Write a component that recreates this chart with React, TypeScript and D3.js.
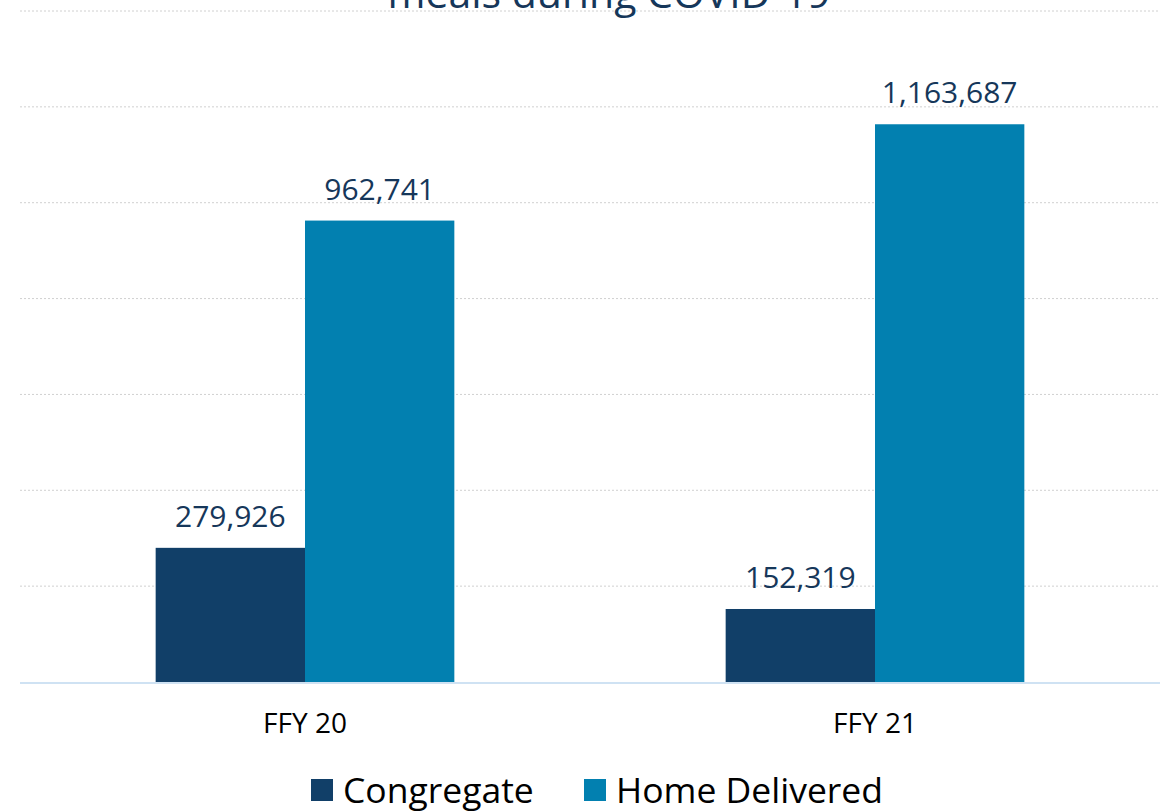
import React, { useRef, useEffect } from "react";
import * as d3 from "d3";

const categories = ["FFY 20", "FFY 21"];
const seriesNames = ["Congregate", "Home Delivered"];
const congregate = [279926, 152319];
const homeDelivered = [962741, 1163687];
const gridValues = [200000, 400000, 600000, 800000, 1000000, 1200000, 1400000];
const colors = ["#113f68", "#0280b0"];

const App = () => {
  const svgRef = useRef<SVGSVGElement>(null);

  useEffect(() => {
    const svg = d3.select(svgRef.current);
    const width = 1168;
    const height = 811;
    const left = 20;
    const right = 1160;
    const top = 11;
    const bottom = 682;

    svg.attr("width", width).attr("height", height);

    const x = d3
      .scaleBand()
      .domain(categories)
      .range([left, right])
      .paddingInner(0.476)
      .paddingOuter(0.238);

    const xSub = d3
      .scaleBand()
      .domain(seriesNames)
      .range([0, x.bandwidth()]);

    const y = d3.scaleLinear().domain([0, 1400000]).range([bottom, top]);

    // dotted gridlines
    svg
      .append("g")
      .selectAll("line")
      .data(gridValues)
      .enter()
      .append("line")
      .attr("x1", left)
      .attr("x2", right)
      .attr("y1", (d) => y(d))
      .attr("y2", (d) => y(d))
      .attr("stroke", "#d0d0d0")
      .attr("stroke-width", 1)
      .attr("stroke-dasharray", "2,2");

    // title (first line is off the top of the frame)
    svg
      .append("text")
      .attr("x", 609)
      .attr("y", 8)
      .attr("text-anchor", "middle")
      .attr("fill", "#16375a")
      .style("font-family", "'Open Sans', sans-serif")
      .style("font-size", "41px")
      .text("meals during COVID-19");

    const rows = categories.map((c, i) => ({
      cat: c,
      values: [congregate[i], homeDelivered[i]],
    }));

    const groups = svg
      .append("g")
      .selectAll("g")
      .data(rows)
      .enter()
      .append("g")
      .attr("transform", (d) => `translate(${x(d.cat)},0)`);

    const bars = groups
      .selectAll("g")
      .data((d) => d.values.map((v, j) => ({ name: seriesNames[j], value: v, j })))
      .enter()
      .append("g");

    bars
      .append("rect")
      .attr("x", (d) => xSub(d.name)!)
      .attr("width", xSub.bandwidth())
      .attr("y", (d) => y(d.value))
      .attr("height", (d) => bottom - y(d.value))
      .attr("fill", (d) => colors[d.j]);

    // value labels above bars
    bars
      .append("text")
      .attr("x", (d) => xSub(d.name)! + xSub.bandwidth() / 2)
      .attr("y", (d) => y(d.value) - 21)
      .attr("text-anchor", "middle")
      .attr("fill", "#16375a")
      .style("font-family", "'Open Sans', sans-serif")
      .style("font-size", "30px")
      .text((d) => d3.format(",")(d.value));

    // baseline
    svg
      .append("line")
      .attr("x1", left)
      .attr("x2", right)
      .attr("y1", bottom + 1)
      .attr("y2", bottom + 1)
      .attr("stroke", "#cfe2f3")
      .attr("stroke-width", 2);

    // category labels
    svg
      .append("g")
      .selectAll("text")
      .data(categories)
      .enter()
      .append("text")
      .attr("x", (d) => x(d)! + x.bandwidth() / 2)
      .attr("y", 733)
      .attr("text-anchor", "middle")
      .attr("fill", "#000")
      .style("font-family", "'Open Sans', sans-serif")
      .style("font-size", "28px")
      .text((d) => d);

    // legend
    const legendX = [311, 584];
    const legend = svg
      .append("g")
      .selectAll("g")
      .data(seriesNames)
      .enter()
      .append("g")
      .attr("transform", (d, i) => `translate(${legendX[i]},779)`);

    legend
      .append("rect")
      .attr("width", 22)
      .attr("height", 22)
      .attr("fill", (d, i) => colors[i]);

    legend
      .append("text")
      .attr("x", 32)
      .attr("y", 24)
      .attr("fill", "#000")
      .style("font-family", "'Open Sans', sans-serif")
      .style("font-size", "35.5px")
      .text((d) => d);

    return () => {
      svg.selectAll("*").remove();
    };
  }, []);

  return (
    <svg
      ref={svgRef}
      style={{ position: "absolute", left: 0, top: 0, background: "#fff" }}
    />
  );
};

export default App;
